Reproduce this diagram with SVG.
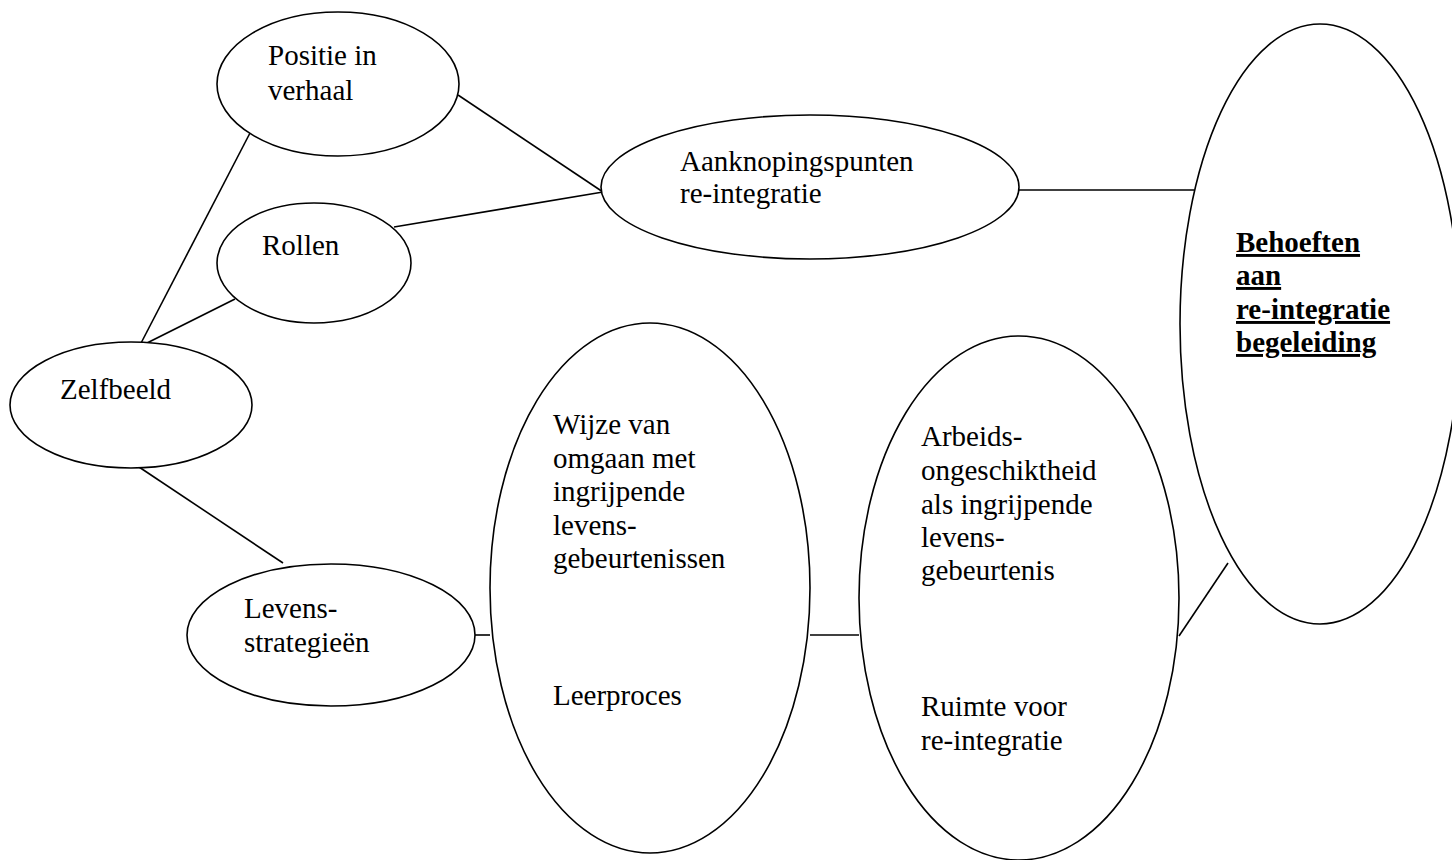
<svg xmlns="http://www.w3.org/2000/svg" width="1452" height="860" viewBox="0 0 1452 860">
<style>
.n{fill:#fff;stroke:#000;stroke-width:1.6}
.c line{stroke:#000;stroke-width:1.6}
text{font-family:"Liberation Serif","Times New Roman",serif;font-size:29px;fill:#000}
.b{font-weight:bold;text-decoration:underline}
</style>
<rect width="1452" height="860" fill="#fff"/>
<g class="c" id="connectors">
<line x1="250" y1="133" x2="139" y2="347"/>
<line x1="235" y1="299" x2="139" y2="347"/>
<line x1="139" y1="467" x2="283" y2="563"/>
<line x1="458" y1="95" x2="603" y2="192"/>
<line x1="394" y1="227" x2="603" y2="192"/>
<line x1="1019" y1="190" x2="1194" y2="190"/>
<line x1="475" y1="635" x2="490" y2="635"/>
<line x1="810" y1="635" x2="859" y2="635"/>
<line x1="1179" y1="636" x2="1228" y2="563"/>
</g>
<g id="positie"><ellipse class="n" cx="338" cy="84" rx="121" ry="72"/><text x="268" y="65">Positie in</text><text x="268" y="100">verhaal</text></g>
<g id="rollen"><ellipse class="n" cx="314" cy="263" rx="97" ry="60"/><text x="262" y="255">Rollen</text></g>
<g id="zelfbeeld"><ellipse class="n" cx="131" cy="405" rx="121" ry="63"/><text x="60" y="399">Zelfbeeld</text></g>
<g id="aanknopingspunten"><ellipse class="n" cx="810" cy="187" rx="209" ry="72"/><text x="680" y="171">Aanknopingspunten</text><text x="680" y="203">re-integratie</text></g>
<g id="levensstrategieen"><ellipse class="n" cx="331" cy="635" rx="144" ry="71"/><text x="244" y="618">Levens-</text><text x="244" y="652">strategieën</text></g>
<g id="wijze"><ellipse class="n" cx="650" cy="588" rx="160" ry="265"/><text x="553" y="434">Wijze van</text><text x="553" y="468">omgaan met</text><text x="553" y="501">ingrijpende</text><text x="553" y="535">levens-</text><text x="553" y="568">gebeurtenissen</text><text x="553" y="705">Leerproces</text></g>
<g id="arbeids"><ellipse class="n" cx="1019" cy="598" rx="160" ry="262"/><text x="921" y="446">Arbeids-</text><text x="921" y="480">ongeschiktheid</text><text x="921" y="514">als ingrijpende</text><text x="921" y="547">levens-</text><text x="921" y="580">gebeurtenis</text><text x="921" y="716">Ruimte voor</text><text x="921" y="750">re-integratie</text></g>
<g id="behoeften"><ellipse class="n" cx="1320" cy="324" rx="140" ry="300"/><text class="b" x="1236" y="252">Behoeften</text><text class="b" x="1236" y="285">aan</text><text class="b" x="1236" y="319">re-integratie</text><text class="b" x="1236" y="352">begeleiding</text></g>
</svg>
